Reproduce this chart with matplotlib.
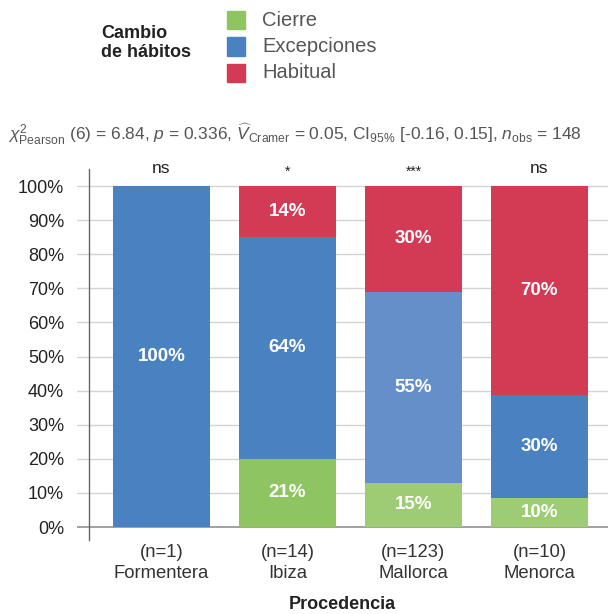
import matplotlib
matplotlib.use("Agg")
import matplotlib.pyplot as plt
from matplotlib.patches import Rectangle

plt.rcParams["font.family"] = ["Liberation Sans", "DejaVu Sans"]
plt.rcParams["mathtext.fontset"] = "custom"
plt.rcParams["mathtext.rm"] = "Liberation Sans"
plt.rcParams["mathtext.it"] = "Liberation Sans:italic"
plt.rcParams["mathtext.bf"] = "Liberation Sans:bold"

# data
islas = ["Formentera", "Ibiza", "Mallorca", "Menorca"]
n_obs = [1, 14, 123, 10]
signif = ["ns", "*", "***", "ns"]

# drawn segment heights (%)
cierre      = [0, 20, 13, 8.5]
excepciones = [100, 65, 56, 30.2]
habitual    = [0, 15, 31, 61.3]

# printed labels (%)
cierre_lbl      = [None, 21, 15, 10]
excepciones_lbl = [100, 64, 55, 30]
habitual_lbl    = [None, 14, 30, 70]

niveles = ["Cierre", "Excepciones", "Habitual"]
col_green = ["#8fc561", "#8fc561", "#9ecc75", "#9ecc75"]
col_blue = ["#4a81c1", "#4a81c1", "#648fc9", "#4a81c1"]
col_red = ["#d33b54"] * 4
legend_cols = ["#8fc561", "#4a81c1", "#d33b54"]

fig = plt.figure(figsize=(6.08, 6.14), dpi=100)
ax = fig.add_axes([77 / 608, 1 - 540 / 614, 1 - 77 / 608, (540 - 169) / 614])

# spine position first: moving it resets the tick formatting
for s in ["top", "right", "bottom"]:
    ax.spines[s].set_visible(False)
ax.spines["left"].set_position(("data", 0.425))
ax.spines["left"].set_color("#666666")
ax.spines["left"].set_linewidth(1.0)

x = list(range(1, len(islas) + 1))
w = 0.77
bottom2 = [a + b for a, b in zip(cierre, excepciones)]
ax.bar(x, cierre, width=w, color=col_green, zorder=3)
ax.bar(x, excepciones, bottom=cierre, width=w, color=col_blue, zorder=3)
ax.bar(x, habitual, bottom=bottom2, width=w, color=col_red, zorder=3)

# percent labels, centred in each drawn segment
for i, xi in enumerate(x):
    segs = [(cierre_lbl[i], 0, cierre[i]),
            (excepciones_lbl[i], cierre[i], excepciones[i]),
            (habitual_lbl[i], bottom2[i], habitual[i])]
    for val, b, h in segs:
        if val is None:
            continue
        ax.text(xi, b + h / 2, f"{val}%", ha="center", va="center", color="white",
                fontsize=13.5, fontweight="bold", zorder=4)
    ax.text(xi, 105.0 if signif[i] == "ns" else 104.2, signif[i], ha="center",
            va="center", fontsize=12.5 if signif[i] == "ns" else 10, color="#222222",
            clip_on=False)

ax.set_xlim(0.425 - 12 / 126, 4.544)
ax.set_ylim(-3.8, 100 + 17 / 3.41)
ax.set_yticks(range(0, 101, 10))
ax.set_yticklabels([f"{v}%" for v in range(0, 101, 10)], fontsize=13, color="#222222")
ax.set_xticks(x)
ax.set_xticklabels([f"(n={n})\n{s}" for n, s in zip(n_obs, islas)], fontsize=13.3,
                   color="#333333", linespacing=1.3)
ax.tick_params(axis="both", length=0)
ax.tick_params(axis="y", pad=18)
ax.tick_params(axis="x", pad=3)

for v in range(10, 101, 10):
    ax.axhline(v, color="#d4d4d4", linewidth=1.0, zorder=1)
ax.axhline(0, color="#999999", linewidth=1.3, zorder=2)

ax.set_xlabel("Procedencia", fontsize=13, fontweight="bold", color="#222222", labelpad=10)

# subtitle with the test statistic
fig.text(8 / 608, 1 - 134 / 614,
         r"$\chi^2_{\mathrm{Pearson}}$ (6) = 6.84, $\it{p}$ = 0.336, "
         r"$\widehat{V}_{\mathrm{Cramer}}$ = 0.05, CI$_{95\%}$ [-0.16, 0.15], "
         r"$\it{n}_{\mathrm{obs}}$ = 148",
         fontsize=12.5, color="#555555", va="center", ha="left")

# legend
fig.text(101 / 608, 1 - 43 / 614, "Cambio\nde hábitos", fontsize=13, fontweight="bold",
         color="#222222", va="center", ha="left", linespacing=1.1)
for k, (lab, c) in enumerate(zip(niveles, legend_cols)):
    yc = 20 + k * 26.5
    fig.patches.append(Rectangle((227 / 608, 1 - (yc + 9) / 614), 18 / 608, 18 / 614,
                                 transform=fig.transFigure, color=c))
    fig.text(262 / 608, 1 - yc / 614, lab, fontsize=14.5, color="#555555",
             va="center", ha="left")

fig.savefig("out.png", dpi=100)
